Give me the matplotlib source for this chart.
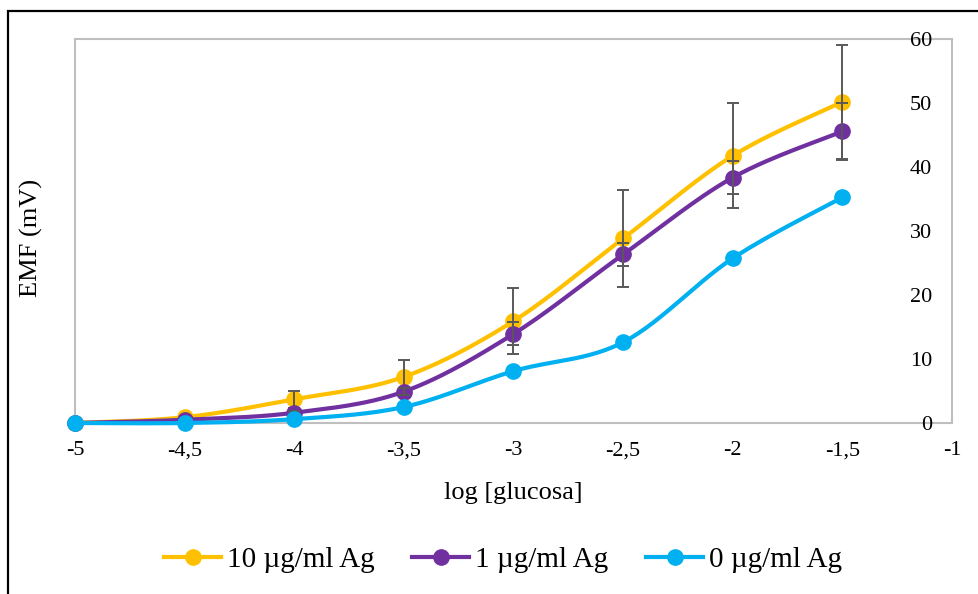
import numpy as np
import matplotlib
matplotlib.use("Agg")
import matplotlib.pyplot as plt
from matplotlib.patches import Rectangle
from matplotlib.lines import Line2D

plt.rcParams['font.family'] = ['Liberation Serif', 'DejaVu Serif']

# ---- data ----
log_glucose = [-5, -4.5, -4, -3.5, -3, -2.5, -2, -1.5]
emf_10 = [0, 0.9, 3.7, 7.2, 15.9, 28.8, 41.7, 50.1]
err_10 = [0, 0.2, 1.3, 2.6, 5.2, 7.5, 8.2, 8.9]
emf_1 = [0, 0.5, 1.6, 4.9, 13.9, 26.3, 38.3, 45.5]
err_1 = [0, 0.1, 0.3, 0.5, 1.8, 1.8, 2.6, 4.4]
emf_0 = [0, 0, 0.6, 2.5, 8.1, 12.6, 25.7, 35.2]
labels = ['10 µg/ml Ag', '1 µg/ml Ag', '0 µg/ml Ag']
colors = ['#FFC000', '#7030A0', '#00B0F0']
xticks = [-5, -4.5, -4, -3.5, -3, -2.5, -2, -1.5, -1]
xticklabels = ['-5', '-4,5', '-4', '-3,5', '-3', '-2,5', '-2', '-1,5', '-1']
yticks = [0, 10, 20, 30, 40, 50, 60]


def smooth(xs, ys, n=30):
    """Catmull-Rom style Bezier smoothing (as in spreadsheet smoothed lines)."""
    p = np.column_stack([xs, ys]).astype(float)
    pts = np.vstack([p[0], p, p[-1]])
    out = []
    t = np.linspace(0, 1, n)[:, None]
    for i in range(1, len(pts) - 2):
        p0, p1, p2, p3 = pts[i - 1], pts[i], pts[i + 1], pts[i + 2]
        c1 = p1 + (p2 - p0) / 6.0
        c2 = p2 - (p3 - p1) / 6.0
        seg = ((1 - t) ** 3) * p1 + 3 * ((1 - t) ** 2) * t * c1 + 3 * (1 - t) * t ** 2 * c2 + t ** 3 * p2
        out.append(seg if i == 1 else seg[1:])
    s = np.vstack(out)
    return s[:, 0], s[:, 1]


W, H = 979, 594
fig = plt.figure(figsize=(W / 100, H / 100), dpi=100)
ax = fig.add_axes([75 / W, 1 - 423 / H, (952 - 75) / W, (423 - 38.5) / H])

series = [(emf_10, err_10), (emf_1, err_1), (emf_0, None)]
handles = []
for k, ((ys, err), lab, col) in enumerate(zip(series, labels, colors)):
    sx, sy = smooth(log_glucose, ys)
    z = 3 + 2 * k
    ax.plot(sx, sy, color=col, lw=3, zorder=z, solid_capstyle='round', clip_on=False)
    ax.plot(log_glucose, ys, 'o', color=col, ms=11, zorder=z, clip_on=False)
    if err is not None:
        ax.errorbar(log_glucose[1:], ys[1:], yerr=err[1:], fmt='none', ecolor='#595959',
                    elinewidth=1.4, capsize=4.5, capthick=1.4, zorder=z + 1)
    handles.append(Line2D([], [], color=col, lw=3, marker='o', ms=11, label=lab))

ax.set_xlim(-5, -1)
ax.set_ylim(0, 60)
ax.set_xticks(xticks)
ax.set_xticklabels(xticklabels)
ax.set_yticks(yticks)
ax.set_yticklabels([str(v) for v in yticks])
ax.tick_params(axis='x', length=0, pad=13, labelsize=16)
ax.tick_params(axis='y', length=0, left=False, right=False, labelleft=False,
               labelright=True, pad=-14.5, labelsize=16)
for t in ax.yaxis.get_major_ticks():
    t.label2.set_horizontalalignment('right')
    t.label2.set_zorder(10)
for sp in ax.spines.values():
    sp.set_color('#BFBFBF')
    sp.set_linewidth(1.5)
    sp.set_zorder(1)

fig.text(513.5 / W, 1 - 493 / H, 'log [glucosa]', ha='center', va='center', fontsize=19)
fig.text(31 / W, 1 - 238 / H, 'EMF (mV)', ha='center', va='center', fontsize=19, rotation=90)

fig.legend(handles=handles, loc='center', bbox_to_anchor=(503 / W, 1 - 560 / H),
           ncol=3, frameon=False, fontsize=21, handlelength=1.95, handletextpad=0.2,
           columnspacing=1.3)

fig.patches.append(Rectangle((8 / W, -0.1), 1.2, 1 - 11 / H + 0.1, transform=fig.transFigure,
                             fill=False, edgecolor='black', lw=1.6))

fig.savefig('out.png', dpi=100)
